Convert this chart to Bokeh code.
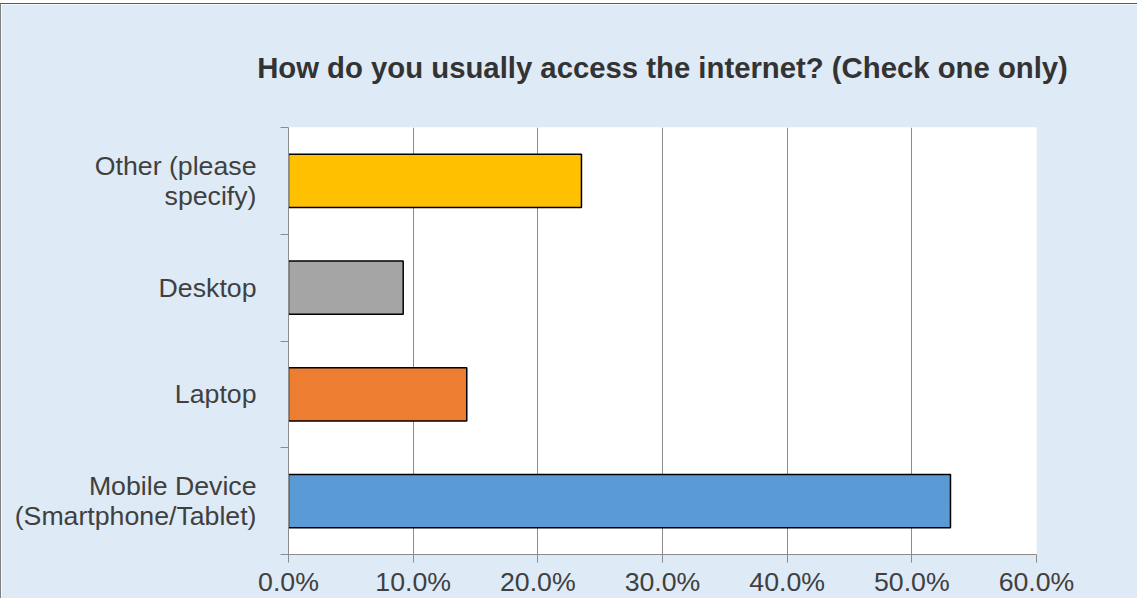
from bokeh.plotting import figure
from bokeh.models import (Range1d, FixedTicker, NumeralTickFormatter,
                          CustomJSTickFormatter, ColumnDataSource)
from bokeh.embed import file_html
from bokeh.resources import INLINE

# ---- data ----
categories = ["Mobile Device\n(Smartphone/Tablet)", "Laptop", "Desktop", "Other (please\nspecify)"]
shares = [0.531, 0.143, 0.092, 0.235]
colors = ["#5B9BD5", "#ED7D31", "#A5A5A5", "#FFC000"]
x_ticks = [0.0, 0.1, 0.2, 0.3, 0.4, 0.5, 0.6]
title_text = "How do you usually access the internet? (Check one only)"

positions = [i + 0.5 for i in range(len(categories))]
src = ColumnDataSource(dict(y=positions, right=shares, color=colors))

BG = "#DEEAF6"
FONT = "Liberation Sans"

p = figure(width=1137, height=595, output_backend="svg", toolbar_location=None,
           x_range=Range1d(0, 0.6), y_range=Range1d(0, len(categories)),
           title=title_text)
p.styles = {"margin-top": "3px", "border-left": "1px solid #7F7F7F",
            "border-top": "1px solid #595959"}
p.min_border_left = 287
p.min_border_right = 102
p.min_border_top = 121
p.min_border_bottom = 43
p.background_fill_color = "white"
p.border_fill_color = BG
p.outline_line_color = None

p.hbar(y="y", left=0, right="right", height=0.5, fill_color="color",
       line_color="black", line_width=1.5, source=src)

# title
p.title.text_font = FONT
p.title.text_font_size = "29.3px"
p.title.text_font_style = "bold"
p.title.text_color = "#333333"
p.title.align = "center"
p.title.standoff = 88

# grid
p.ygrid.grid_line_color = None
p.xgrid.grid_line_color = "#8C8C8C"
p.xgrid.grid_line_width = 1
p.xgrid.ticker = FixedTicker(ticks=x_ticks)

# x axis
xa = p.xaxis[0]
xa.ticker = FixedTicker(ticks=x_ticks, minor_ticks=[])
xa.formatter = NumeralTickFormatter(format="0.0%")
xa.axis_line_color = "#8C8C8C"
xa.major_tick_line_color = "#8C8C8C"
xa.major_tick_out = 8
xa.major_tick_in = 0
xa.minor_tick_line_color = None
xa.major_label_text_font = FONT
xa.major_label_text_font_size = "26.7px"
xa.major_label_text_color = "#404040"
xa.major_label_text_line_height = 1.0
xa.major_label_standoff = 4

# y axis: labels at category centers, ticks at category boundaries
ya = p.yaxis[0]
ya.ticker = FixedTicker(ticks=positions, minor_ticks=list(range(len(categories) + 1)))
ya.formatter = CustomJSTickFormatter(args=dict(labels=categories),
                                     code="return labels[Math.floor(tick)];")
ya.axis_line_color = "#8C8C8C"
ya.major_tick_line_color = None
ya.major_tick_out = 0
ya.major_tick_in = 0
ya.minor_tick_line_color = "#8C8C8C"
ya.minor_tick_out = 8
ya.minor_tick_in = 0
ya.major_label_text_font = FONT
ya.major_label_text_font_size = "26.7px"
ya.major_label_text_color = "#404040"
ya.major_label_text_line_height = 1.0
ya.major_label_standoff = 24

open("out.html", "w").write(file_html(p, INLINE))
